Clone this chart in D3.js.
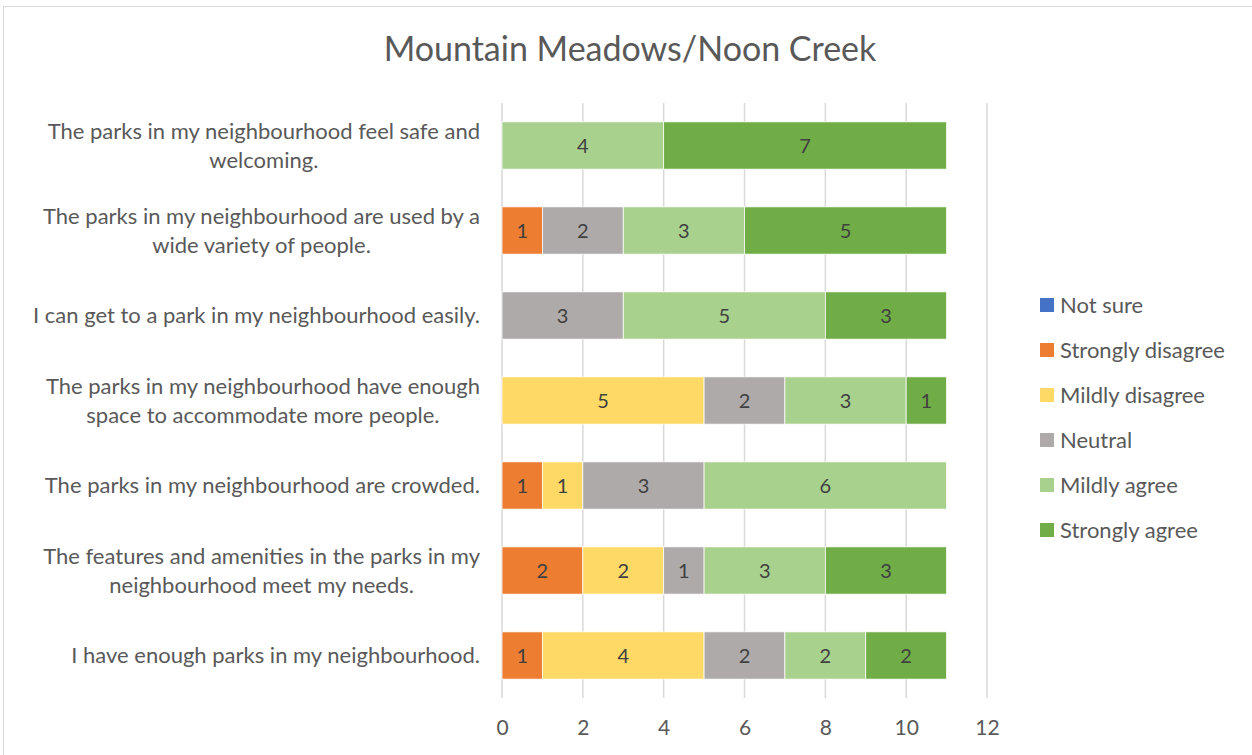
<!DOCTYPE html>
<html>
<head>
<meta charset="utf-8">
<script src="https://cdn.jsdelivr.net/npm/d3@7"></script>
<style>
  body { margin: 0; background: #fff; }
  text { font-family: Lato, "Open Sans", sans-serif; }
</style>
</head>
<body>
<script>
// categories, top to bottom, already split into the lines shown
const categories = [
  ["The parks in my neighbourhood feel safe and", "welcoming."],
  ["The parks in my neighbourhood are used by a", "wide variety of people."],
  ["I can get to a park in my neighbourhood easily."],
  ["The parks in my neighbourhood have enough", "space to accommodate more people."],
  ["The parks in my neighbourhood are crowded."],
  ["The features and amenities in the parks in my", "neighbourhood meet my needs."],
  ["I have enough parks in my neighbourhood."]
];

const seriesNames = ["Not sure", "Strongly disagree", "Mildly disagree", "Neutral", "Mildly agree", "Strongly agree"];
const seriesColors = ["#4472C4", "#ED7D31", "#FFD966", "#AEAAAA", "#A9D18E", "#70AD47"];

// one array per series, same order as categories
const notSure          = [0, 0, 0, 0, 0, 0, 0];
const stronglyDisagree = [0, 1, 0, 0, 1, 2, 1];
const mildlyDisagree   = [0, 0, 0, 5, 1, 2, 4];
const neutral          = [0, 2, 3, 2, 3, 1, 2];
const mildlyAgree      = [4, 3, 5, 3, 6, 3, 2];
const stronglyAgree    = [7, 5, 3, 1, 0, 3, 2];

const xTicks = [0, 2, 4, 6, 8, 10, 12];

const WIDTH = 1252;
const HEIGHT = 755;

const margin = { top: 103, bottom: 57, left: 502, right: 265 };

const svg = d3.select('body')
  .append('svg')
  .attr('width', WIDTH)
  .attr('height', HEIGHT);

// chart frame
svg.append('rect')
  .attr('x', 3.5).attr('y', 6.5)
  .attr('width', WIDTH + 10).attr('height', HEIGHT + 10)
  .attr('fill', 'none')
  .attr('stroke', '#d9d9d9')
  .attr('stroke-width', 1);

svg.append('text')
  .attr('x', 630)
  .attr('y', 61)
  .attr('text-anchor', 'middle')
  .attr('fill', '#595959')
  .style('font-size', '34px')
  .text('Mountain Meadows/Noon Creek');

const escalaX = d3.scaleLinear()
  .domain([0, 12])
  .range([margin.left, WIDTH - margin.right]);

const escalaY = d3.scaleBand()
  .domain(categories.map((_, i) => i))
  .range([margin.top, HEIGHT - margin.bottom])
  .paddingInner(0.444)
  .paddingOuter(0.222);

// gridlines
svg.append('g')
  .selectAll('line')
  .data(xTicks)
  .enter()
  .append('line')
  .attr('x1', d => escalaX(d))
  .attr('x2', d => escalaX(d))
  .attr('y1', margin.top)
  .attr('y2', HEIGHT - margin.bottom)
  .attr('stroke', '#d9d9d9')
  .attr('stroke-width', 1.5);

// x axis labels
const ejeX = d3.axisBottom(escalaX).tickValues(xTicks).tickSize(0).tickPadding(22);
const gx = svg.append('g')
  .attr('transform', `translate(0, ${HEIGHT - margin.bottom})`)
  .call(ejeX);
gx.select('.domain').remove();
gx.selectAll('text')
  .attr('fill', '#595959')
  .style('font-size', '21px')
  .style('font-family', 'Lato, sans-serif');

// stacked data
const seriesValues = [notSure, stronglyDisagree, mildlyDisagree, neutral, mildlyAgree, stronglyAgree];
const rows = categories.map((_, i) => {
  const r = { idx: i };
  seriesNames.forEach((s, j) => { r[s] = seriesValues[j][i]; });
  return r;
});
const stack = d3.stack().keys(seriesNames)(rows);

const layers = svg.append('g')
  .selectAll('g')
  .data(stack)
  .enter()
  .append('g')
  .attr('fill', (d, i) => seriesColors[i]);

layers.selectAll('rect')
  .data(d => d.filter(p => p[1] - p[0] > 0))
  .enter()
  .append('rect')
  .attr('x', d => escalaX(d[0]))
  .attr('width', d => escalaX(d[1]) - escalaX(d[0]))
  .attr('y', d => escalaY(d.data.idx))
  .attr('height', escalaY.bandwidth())
  .attr('stroke', '#fff')
  .attr('stroke-width', 0.75);

layers.selectAll('text')
  .data(d => d.filter(p => p[1] - p[0] > 0))
  .enter()
  .append('text')
  .attr('x', d => (escalaX(d[0]) + escalaX(d[1])) / 2)
  .attr('y', d => escalaY(d.data.idx) + escalaY.bandwidth() / 2)
  .attr('dy', '0.35em')
  .attr('text-anchor', 'middle')
  .attr('fill', '#404040')
  .style('font-size', '20px')
  .text(d => d[1] - d[0]);

// category labels
const labelRight = 480;
const lineGap = 29;
categories.forEach((lines, i) => {
  const cy = escalaY(i) + escalaY.bandwidth() / 2;
  const t = svg.append('text')
    .attr('fill', '#595959')
    .attr('text-anchor', 'middle')
    .style('font-size', '22px');
  const spans = lines.map((ln, k) => t.append('tspan')
    .attr('y', cy + (k - (lines.length - 1) / 2) * lineGap)
    .attr('dy', '0.35em')
    .text(ln));
  const w = d3.max(spans, s => s.node().getComputedTextLength());
  spans.forEach(s => s.attr('x', labelRight - w / 2));
});

// legend
const legend = svg.append('g')
  .selectAll('g')
  .data(seriesNames)
  .enter()
  .append('g')
  .attr('transform', (d, i) => `translate(1040, ${305 + i * 45})`);

legend.append('rect')
  .attr('x', 0).attr('y', -7)
  .attr('width', 14).attr('height', 14)
  .attr('fill', (d, i) => seriesColors[i]);

legend.append('text')
  .attr('x', 20)
  .attr('dy', '0.35em')
  .attr('fill', '#595959')
  .style('font-size', '22px')
  .text(d => d);
</script>
</body>
</html>
